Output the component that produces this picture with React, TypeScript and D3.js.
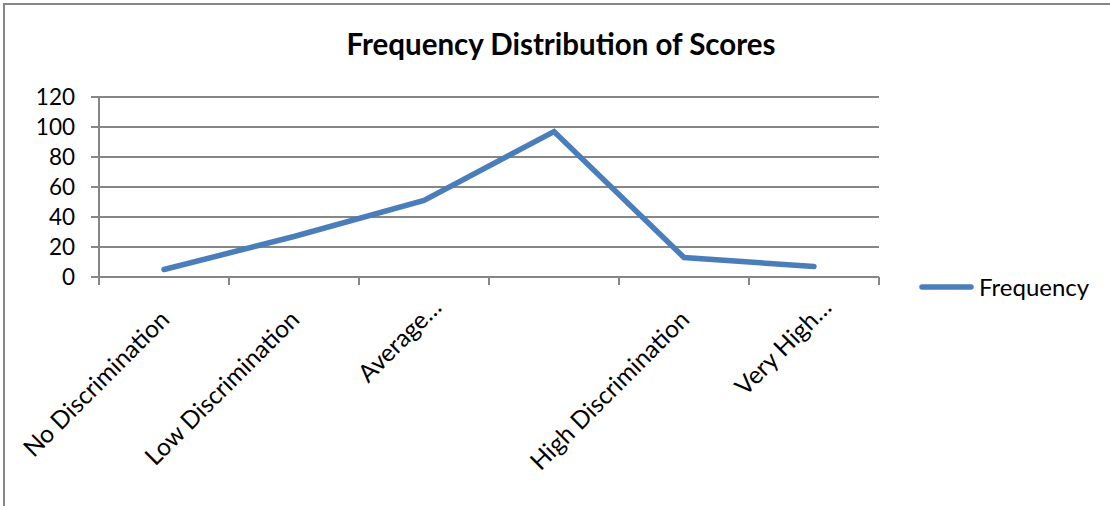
import React from "react";
import * as d3 from "d3";

const categories: string[] = [
  "No Discrimination",
  "Low Discrimination",
  "Average…",
  "",
  "High Discrimination",
  "Very High…",
];
const frequency: number[] = [5, 27, 51, 97, 13, 7];
const yTicks: number[] = [0, 20, 40, 60, 80, 100, 120];
const seriesName = "Frequency";
const title = "Frequency Distribution of Scores";

const W = 1110;
const H = 506;
const M = { left: 99, right: 879, top: 97, bottom: 277 };
const FONT = "Lato, 'Open Sans', sans-serif";
const BLUE = "#4A7EBB";
const GRID = "#868686";

export default function App() {
  const x = d3
    .scaleBand<number>()
    .domain(categories.map((_, i) => i))
    .range([M.left, M.right])
    .paddingInner(0)
    .paddingOuter(0);
  const y = d3.scaleLinear().domain([0, 120]).range([M.bottom, M.top]);
  const cx = (i: number) => (x(i) as number) + x.bandwidth() / 2;
  const line = d3
    .line<number>()
    .x((_, i) => cx(i))
    .y((d) => y(d));
  const tickXs = d3.range(categories.length + 1).map((i) => M.left + i * x.bandwidth());

  return (
    <svg
      width={W}
      height={H}
      style={{ position: "absolute", left: 0, top: 0, background: "#fff" }}
      fontFamily={FONT}
    >
      <rect x={0} y={0} width={W} height={H} fill="#fff" />
      <rect x={4} y={4} width={W + 20} height={H + 20} fill="none" stroke={GRID} strokeWidth={2} />
      <text x={561} y={55} textAnchor="middle" fontSize={29.5} fontWeight={700} fill="#000">
        {title}
      </text>
      {yTicks.map((t) => (
        <g key={t}>
          <line x1={M.left - 8} x2={M.right} y1={y(t)} y2={y(t)} stroke={GRID} strokeWidth={2} />
          <text x={75} y={y(t)} dy="0.36em" textAnchor="end" fontSize={22.5} fill="#000">
            {t}
          </text>
        </g>
      ))}
      <line x1={M.left} x2={M.left} y1={M.top} y2={M.bottom} stroke={GRID} strokeWidth={2} />
      {tickXs.map((tx, i) => (
        <line key={i} x1={tx} x2={tx} y1={M.bottom} y2={M.bottom + 8} stroke={GRID} strokeWidth={2} />
      ))}
      {categories.map((c, i) => (
        <text
          key={i}
          transform={`translate(${cx(i) + 7},${M.bottom + 44}) rotate(-45)`}
          x={c.endsWith("…") ? 17 : 0}
          textAnchor="end"
          fontSize={24.5}
          fill="#000"
        >
          {c}
        </text>
      ))}
      <path
        d={line(frequency) as string}
        fill="none"
        stroke={BLUE}
        strokeWidth={5.5}
        strokeLinecap="round"
        strokeLinejoin="miter"
      />
      <line x1={922} x2={971} y1={287} y2={287} stroke={BLUE} strokeWidth={5.5} strokeLinecap="round" />
      <text x={979} y={287} dy="0.36em" fontSize={24} fill="#000">
        {seriesName}
      </text>
    </svg>
  );
}
